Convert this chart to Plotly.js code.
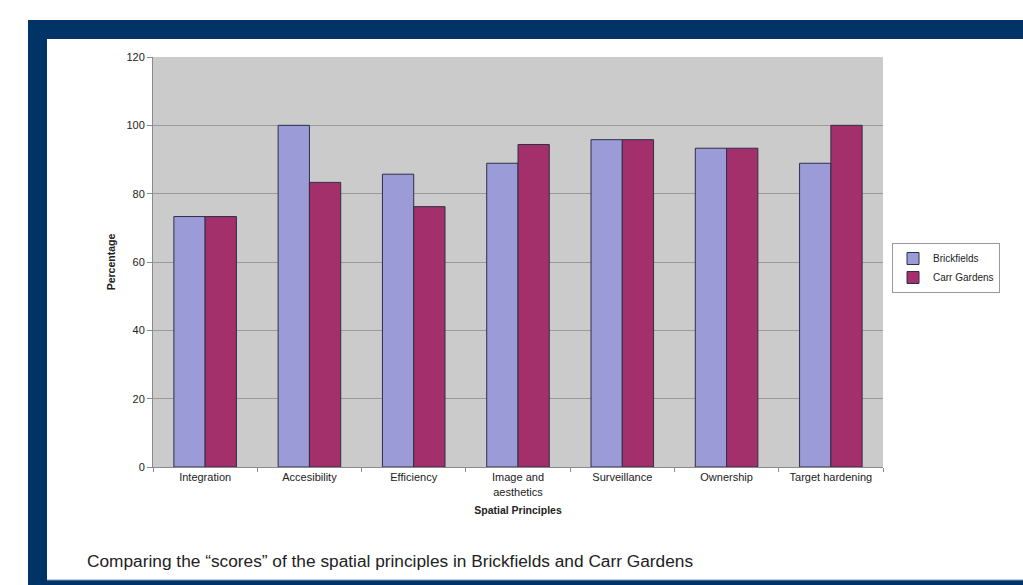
<!DOCTYPE html>
<html>
<head>
<meta charset="utf-8">
<script src="https://cdn.plot.ly/plotly-3.0.1.min.js"></script>
<style>
  html, body { margin: 0; padding: 0; background: #ffffff; }
  #chart { width: 1023px; height: 585px; }
</style>
</head>
<body>
<div id="chart"></div>
<script>
// ---- data ----
var categories = ["Integration", "Accesibility", "Efficiency", "Image and<br>aesthetics", "Surveillance", "Ownership", "Target hardening"];
var brickfields = [73.3, 100, 85.7, 88.9, 95.8, 93.3, 88.9];
var carrGardens = [73.3, 83.3, 76.2, 94.4, 95.8, 93.3, 100];
var seriesNames = ["Brickfields", "Carr Gardens"];
var yTicks = [0, 20, 40, 60, 80, 100, 120];
var captionText = "Comparing the \u201cscores\u201d of the spatial principles in Brickfields and Carr Gardens";

// ---- geometry (pixels) ----
var W = 1023, H = 585;
var L = 153, R = 883, T = 57, B = 467;
var pw = R - L, ph = B - T;
function px(x) { return (x - L) / pw; }
function py(y) { return (B - y) / ph; }

var navy = "#003366";
var fontFam = "Liberation Sans, Arial, sans-serif";

var traces = [
  {
    type: "bar", name: seriesNames[0], x: categories, y: brickfields,
    marker: { color: "#9b9bd8", line: { color: "#2e2e48", width: 1 } }
  },
  {
    type: "bar", name: seriesNames[1], x: categories, y: carrGardens,
    marker: { color: "#a3306a", line: { color: "#2e2e48", width: 1 } }
  }
];

var layout = {
  width: W, height: H,
  margin: { l: L, r: W - R, t: T, b: H - B, pad: 0 },
  paper_bgcolor: "#ffffff",
  plot_bgcolor: "#cbcbcb",
  font: { family: fontFam, size: 10, color: "#222222" },
  barmode: "group",
  bargap: 0.4,
  bargroupgap: 0,
  showlegend: true,
  legend: {
    x: px(892), y: py(243), xanchor: "left", yanchor: "top",
    bgcolor: "#ffffff", bordercolor: "#9a9a9a", borderwidth: 1,
    font: { family: fontFam, size: 10, color: "#222222" },
    itemwidth: 30, tracegroupgap: 0
  },
  xaxis: {
    type: "category",
    tickfont: { family: fontFam, size: 11, color: "#222222" },
    showline: true, linecolor: "#8a8a8a", linewidth: 1,
    ticks: "outside", ticklen: 4, tickcolor: "#8a8a8a",
    tickson: "boundaries",
    showgrid: false,
    title: { text: "<b>Spatial Principles</b>", standoff: 10,
             font: { family: fontFam, size: 10.5, color: "#222222" } },
    automargin: false
  },
  yaxis: {
    range: [0, 120],
    tickmode: "array", tickvals: yTicks, ticktext: yTicks.map(String),
    tickfont: { family: fontFam, size: 11, color: "#222222" },
    showline: true, linecolor: "#8a8a8a", linewidth: 1,
    ticks: "outside", ticklen: 5, tickcolor: "#8a8a8a",
    showgrid: true, gridcolor: "#9a9a9a", gridwidth: 1,
    zeroline: false,
    title: { text: "<b>Percentage</b>", standoff: 8,
             font: { family: fontFam, size: 10.5, color: "#222222" } },
    automargin: false
  },
  shapes: [
    // navy frame: top bar, left bar, bottom bar
    { type: "rect", xref: "paper", yref: "paper", layer: "above",
      x0: px(28), x1: px(1030), y0: py(20), y1: py(39),
      fillcolor: navy, line: { width: 0 } },
    { type: "rect", xref: "paper", yref: "paper", layer: "above",
      x0: px(28), x1: px(47), y0: py(20), y1: py(590),
      fillcolor: navy, line: { width: 0 } },
    { type: "rect", xref: "paper", yref: "paper", layer: "above",
      x0: px(28), x1: px(1030), y0: py(580), y1: py(590),
      fillcolor: navy, line: { width: 0 } },
    { type: "line", xref: "paper", yref: "paper", layer: "above",
      x0: px(47), x1: px(1030), y0: py(580), y1: py(580),
      line: { color: "#7f9cc0", width: 1 } }
  ],
  annotations: [
    { xref: "paper", yref: "paper", x: px(85), y: py(561),
      xanchor: "left", yanchor: "middle", showarrow: false,
      text: captionText,
      font: { family: fontFam, size: 17.3, color: "#222222" } }
  ]
};

Plotly.newPlot("chart", traces, layout, { displayModeBar: false, staticPlot: true });
</script>
</body>
</html>
